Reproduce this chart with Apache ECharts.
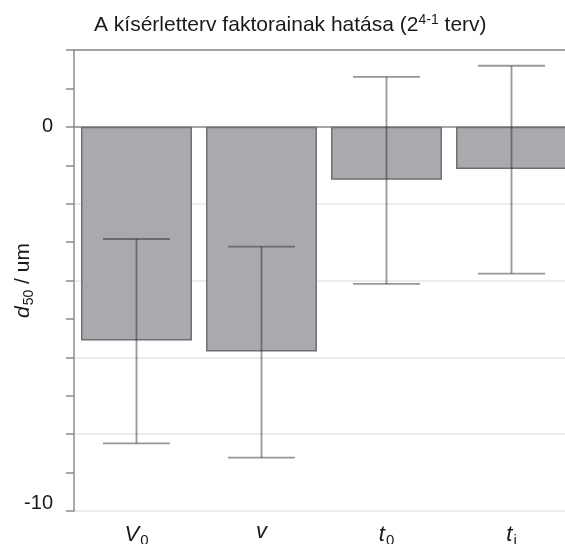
<!DOCTYPE html>
<html>
<head>
<meta charset="utf-8">
<script src="https://cdn.jsdelivr.net/npm/echarts@6/dist/echarts.min.js"></script>
<style>
  html, body { margin: 0; padding: 0; background: #fff; overflow: hidden; }
  #chart { width: 565px; height: 544px; }
</style>
</head>
<body>
<div id="chart"></div>
<script>
// Factor effects of the 2^(4-1) design with their confidence intervals
const factors = ['V0', 'v', 't0', 'ti'];
const factorLabels = ['{i|V}{s|0}', '{i|v}', '{i|t}{s|0}', '{i|t}{s|i}'];
const effects = [-5.56, -5.85, -1.38, -1.10];
const errLow = [-8.24, -8.61, -4.09, -3.82];
const errHigh = [-2.92, -3.12, 1.30, 1.59];
const yTickLabels = [0, -10];

const FONT = 'Liberation Sans, Arial, sans-serif';
const AXIS_COLOR = '#8c8c8c';

const errData = factors.map((f, i) => [i, errLow[i], errHigh[i]]);

const chart = echarts.init(document.getElementById('chart'));
chart.setOption({
  animation: false,
  title: {
    text: 'A kísérletterv faktorainak hatása (2{sup|4-1} terv)',
    left: 89,
    top: 8,
    textStyle: {
      fontFamily: FONT,
      fontSize: 21,
      fontWeight: 'normal',
      color: '#1a1a1a',
      rich: {
        sup: { fontFamily: FONT, fontSize: 14, color: '#1a1a1a', padding: [0, 0, 10, 0] }
      }
    }
  },
  grid: { left: 74, top: 50, bottom: 33, right: -9, containLabel: false, outerBoundsMode: 'none' },
  xAxis: [
    {
      type: 'category',
      data: factors,
      boundaryGap: true,
      axisLine: { show: true, lineStyle: { color: AXIS_COLOR, width: 1.5 } },
      axisTick: { show: true, alignWithLabel: true, length: 6, lineStyle: { color: AXIS_COLOR, width: 1.5 } },
      axisLabel: {
        margin: 10,
        formatter: (val, idx) => factorLabels[idx],
        rich: {
          i: { fontFamily: FONT, fontSize: 22, fontStyle: 'italic', color: '#1a1a1a' },
          s: { fontFamily: FONT, fontSize: 15, color: '#1a1a1a', padding: [12, 0, 0, 1] }
        }
      },
      splitLine: { show: false }
    },
    {
      type: 'category',
      data: factors,
      position: 'top',
      axisLine: { show: true, lineStyle: { color: AXIS_COLOR, width: 1.5 } },
      axisTick: { show: false },
      axisLabel: { show: false }
    }
  ],
  yAxis: {
    type: 'value',
    min: -10,
    max: 2,
    interval: 2,
    name: '{d|d}{s|50}{n| / um}',
    nameLocation: 'middle',
    nameRotate: 90,
    nameGap: 38,
    nameMoveOverlap: false,
    nameTextStyle: {
      rich: {
        d: { fontFamily: FONT, fontSize: 21, fontStyle: 'italic', color: '#1a1a1a' },
        s: { fontFamily: FONT, fontSize: 14, color: '#1a1a1a', padding: [11, 0, 0, 1] },
        n: { fontFamily: FONT, fontSize: 21, color: '#1a1a1a' }
      }
    },
    axisLine: { show: true, lineStyle: { color: AXIS_COLOR, width: 1.5 } },
    axisTick: { show: true, length: 8, lineStyle: { color: AXIS_COLOR, width: 1.5 } },
    minorTick: { show: true, splitNumber: 2, length: 8, lineStyle: { color: AXIS_COLOR, width: 1.5 } },
    splitLine: { show: true, lineStyle: { color: '#e6e6e6', width: 1.5 } },
    axisLabel: {
      margin: 21,
      fontFamily: FONT,
      fontSize: 20,
      color: '#1a1a1a',
      formatter: (v) => {
        if (v === yTickLabels[0]) return String(v);
        if (v === yTickLabels[1]) return '{b|' + v + '}';
        return '';
      },
      rich: {
        b: { fontFamily: FONT, fontSize: 20, color: '#1a1a1a', padding: [0, 0, 16, 0] }
      }
    }
  },
  series: [
    {
      type: 'bar',
      data: effects,
      barWidth: 111,
      itemStyle: { color: '#a9aaae', borderColor: '#6e6f73', borderWidth: 1.5 },
      z: 2
    },
    {
      type: 'custom',
      data: errData,
      z: 3,
      renderItem: (params, api) => {
        const x = api.value(0);
        const lo = api.coord([x, api.value(1)]);
        const hi = api.coord([x, api.value(2)]);
        const half = 33.5;
        const style = { stroke: 'rgba(40,40,42,0.48)', lineWidth: 1.8 };
        return {
          type: 'group',
          children: [
            { type: 'line', shape: { x1: lo[0], y1: lo[1], x2: hi[0], y2: hi[1] }, style },
            { type: 'line', shape: { x1: hi[0] - half, y1: hi[1], x2: hi[0] + half, y2: hi[1] }, style },
            { type: 'line', shape: { x1: lo[0] - half, y1: lo[1], x2: lo[0] + half, y2: lo[1] }, style }
          ]
        };
      }
    }
  ]
});
</script>
</body>
</html>
